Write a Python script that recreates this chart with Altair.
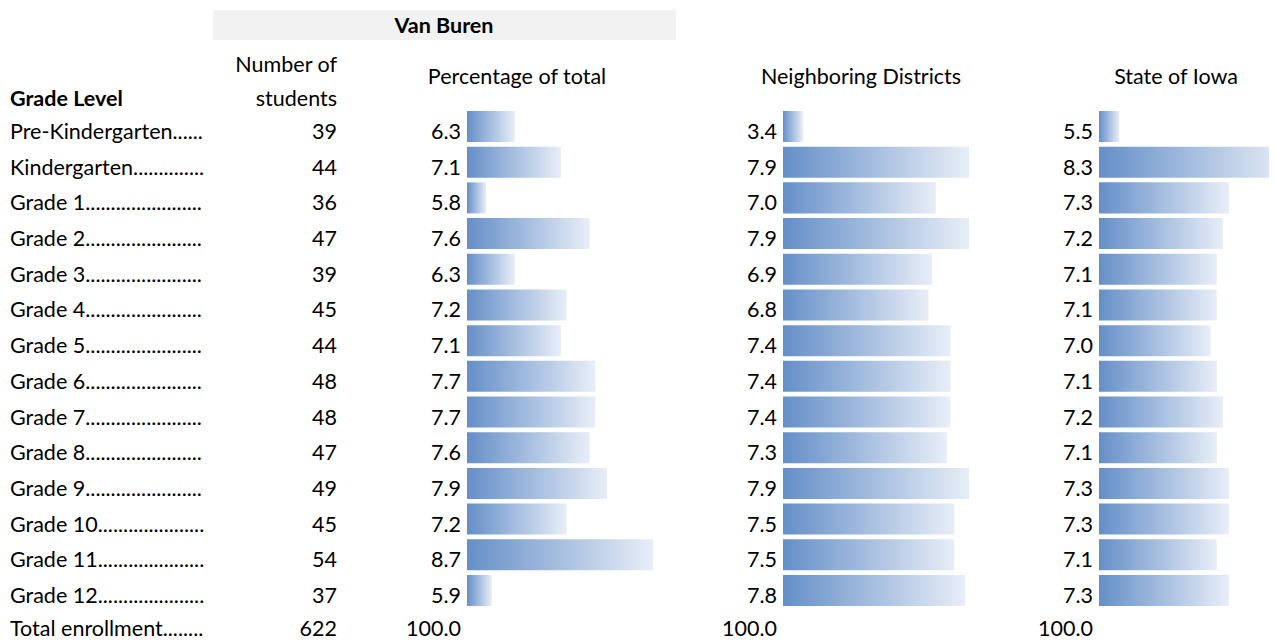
import altair as alt
import pandas as pd

grades = ["Pre-Kindergarten", "Kindergarten", "Grade 1", "Grade 2", "Grade 3", "Grade 4",
          "Grade 5", "Grade 6", "Grade 7", "Grade 8", "Grade 9", "Grade 10", "Grade 11", "Grade 12"]
students = [39, 44, 36, 47, 39, 45, 44, 48, 48, 47, 49, 45, 54, 37]
vb_pct = [6.3, 7.1, 5.8, 7.6, 6.3, 7.2, 7.1, 7.7, 7.7, 7.6, 7.9, 7.2, 8.7, 5.9]
nb_pct = [3.4, 7.9, 7.0, 7.9, 6.9, 6.8, 7.4, 7.4, 7.4, 7.3, 7.9, 7.5, 7.5, 7.8]
ia_pct = [5.5, 8.3, 7.3, 7.2, 7.1, 7.1, 7.0, 7.1, 7.2, 7.1, 7.3, 7.3, 7.1, 7.3]
total_label = "Total enrollment"
total_students = 622
total_pct = [100.0, 100.0, 100.0]

FONT = "Lato"
FS = 21.5

rows = grades + [total_label]
table = pd.DataFrame({
    "row": rows,
    "label": [r + "." * 80 for r in rows],
    "n": [str(v) for v in students] + [str(total_students)],
    "vb": [f"{v:.1f}" for v in vb_pct] + [f"{total_pct[0]:.1f}"],
    "nb": [f"{v:.1f}" for v in nb_pct] + [f"{total_pct[1]:.1f}"],
    "ia": [f"{v:.1f}" for v in ia_pct] + [f"{total_pct[2]:.1f}"],
})
grade_rows = table[table["row"] != total_label]
total_rows = table[table["row"] == total_label]
bars = pd.DataFrame({"row": grades, "vb": vb_pct, "nb": nb_pct, "ia": ia_pct})

yscale = alt.Scale(domain=rows, range=[100.65, 636], paddingInner=0.131, paddingOuter=0.0655)
Y = alt.Y("row:N", scale=yscale, axis=None)

grad = alt.Gradient(
    gradient="linear",
    stops=[alt.GradientStop(color="#658FC8", offset=0),
           alt.GradientStop(color="#E8EEF7", offset=1)],
    x1=0, x2=1, y1=0, y2=0,
)

def text_layers(field, xpos, align, limit=None):
    out = []
    for df, dy in ((grade_rows, 12.5), (total_rows, 9.8)):
        kw = dict(font=FONT, fontSize=FS, align=align, baseline="alphabetic", dy=dy, color="#000000")
        if limit is not None:
            kw.update(limit=limit, ellipsis=".")
        out.append(alt.Chart(df).mark_text(**kw).encode(x=alt.value(xpos), y=Y, text=f"{field}:N"))
    return out

def bar_col(field, lo, hi, r0, r1):
    return alt.Chart(bars).mark_bar(color=grad, clip=True).encode(
        x=alt.X(f"{field}:Q", scale=alt.Scale(domain=[lo, hi], range=[r0, r1]), axis=None),
        x2=alt.datum(lo),
        y=Y,
    )

vb_bars = bar_col("vb", 5.47, 8.7, 459, 645)
nb_bars = bar_col("nb", 2.86, 7.9, 775, 961)
ia_bars = bar_col("ia", 5.17, 8.3, 1091, 1282)

one = pd.DataFrame({"a": [0]})
header_box = alt.Chart(one).mark_rect(color="#F2F2F2").encode(
    x=alt.value(205), x2=alt.value(668), y=alt.value(2), y2=alt.value(32)
)

def htext(txt, x, y, align="center", bold=False):
    return alt.Chart(one).mark_text(
        text=txt, font=FONT, fontSize=FS, align=align, baseline="middle",
        fontWeight="bold" if bold else "normal", color="#000000"
    ).encode(x=alt.value(x), y=alt.value(y))

headers = [
    htext("Van Buren", 436, 19, bold=True),
    htext("Grade Level", 2, 92, align="left", bold=True),
    htext("Number of", 329, 58, align="right"),
    htext("students", 329, 92, align="right"),
    htext("Percentage of total", 509, 70),
    htext("Neighboring Districts", 853, 70),
    htext("State of Iowa", 1168, 70),
]

chart = alt.layer(
    header_box, *headers,
    vb_bars, nb_bars, ia_bars,
    *text_layers("label", 2, "left", limit=196),
    *text_layers("n", 329, "right"),
    *text_layers("vb", 453, "right"),
    *text_layers("nb", 769, "right"),
    *text_layers("ia", 1085, "right"),
).resolve_scale(x="independent").properties(
    width=1261, height=628, padding=0, background="#FFFFFF"
).configure_view(stroke=None)

chart.save("out.html", embed_options={"renderer": "svg", "actions": False})
